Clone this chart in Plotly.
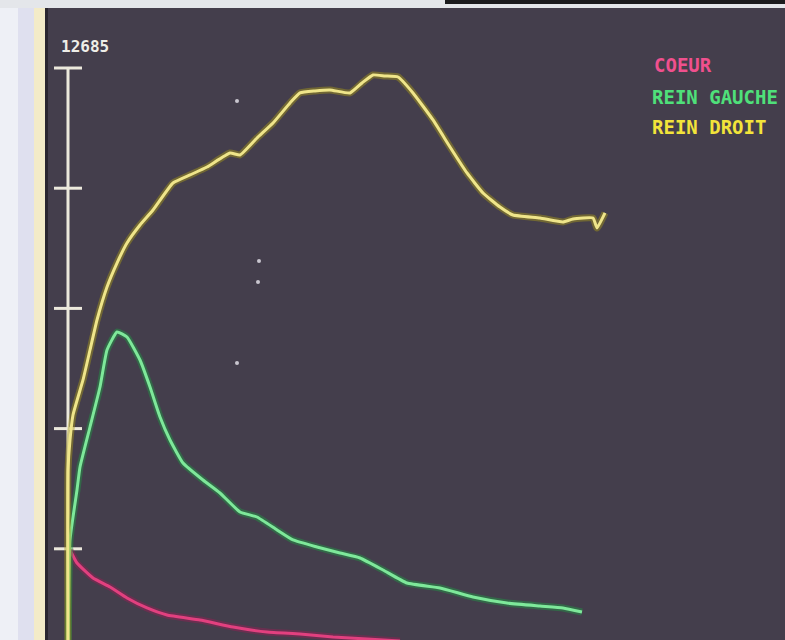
import plotly.graph_objects as go

# Renogram data (time in minutes, counts)
t_droit = [0, 0.0, 0.1, 0.25, 0.75, 1.1, 1.45, 1.95, 2.45, 2.95, 3.6, 4.25, 5.25, 6.1, 6.95, 8.1, 8.6,
           9.45, 10.25, 11.1, 11.6, 12.35, 13.1, 14.1, 14.7, 15.25, 15.85, 16.5, 17.25, 18.25, 19.1,
           19.95, 20.75, 21.6, 22.25, 23.6, 24.75, 25.25, 26.25, 26.45, 26.85]
rein_droit = [0, 4200, 4834, 5361, 6100, 6733, 7366, 8063, 8569, 8992, 9372, 9688, 10258, 10427, 10596,
              10891, 10849, 11208, 11524, 11947, 12158, 12200, 12221, 12158, 12369, 12538, 12516, 12495,
              12158, 11588, 11018, 10469, 10047, 9751, 9583, 9519, 9435, 9498, 9519, 9308, 9625]

t_gauche = [0, 0.1, 0.45, 0.6, 1.1, 1.6, 1.95, 2.45, 2.95, 3.6, 4.1, 4.6, 5.1, 5.75, 6.75, 7.6, 8.6,
            9.45, 10.45, 11.25, 12.45, 13.6, 14.6, 15.75, 16.95, 18.6, 20.25, 21.95, 23.6, 24.75, 25.7]
rein_gauche = [0, 2723, 3778, 4264, 5108, 5952, 6733, 7113, 7008, 6522, 5952, 5319, 4834, 4348, 3989,
               3715, 3314, 3208, 2934, 2723, 2575, 2448, 2343, 2090, 1815, 1710, 1520, 1393, 1330,
               1288, 1203]

t_coeur = [0.1, 0.45, 1.25, 2.1, 2.95, 3.95, 4.95, 6.6, 8.25, 9.95, 11.6, 13.25, 14.95, 16.6]
coeur = [2512, 2237, 1921, 1731, 1499, 1288, 1140, 1034, 886, 781, 739, 675, 633, 591]

# stray bright specks on the screen
speck_t = [8.45, 9.55, 9.5, 8.45]
speck_v = [11989, 8612, 8168, 6459]

y_max = 12685
y_ticks = [0, 2537, 5074, 7611, 10148, 12685]

W, H = 785, 640
SCREEN = "#443e4c"

fig = go.Figure()

def glow_line(x, y, core, halo):
    fig.add_trace(go.Scatter(x=x, y=y, mode="lines", line=dict(color=halo, width=7, shape="spline", smoothing=0.4),
                             opacity=0.45, hoverinfo="skip", showlegend=False))
    fig.add_trace(go.Scatter(x=x, y=y, mode="lines", line=dict(color=core, width=3, shape="spline", smoothing=0.4),
                             hoverinfo="skip", showlegend=False))

# axis
fig.add_trace(go.Scatter(x=[0, 0], y=[0, y_max], mode="lines",
                         line=dict(color="#ece9dc", width=3), showlegend=False, hoverinfo="skip"))
fig.add_trace(go.Scatter(x=[0] * len(y_ticks), y=y_ticks, mode="markers",
                         marker=dict(symbol="line-ew", size=20, line=dict(color="#ece9dc", width=3)),
                         showlegend=False, hoverinfo="skip"))

glow_line(t_coeur, coeur, "#e2407f", "#9a1e55")
glow_line(t_gauche, rein_gauche, "#7ee89a", "#1f9a45")
glow_line(t_droit, rein_droit, "#efe58a", "#a89a18")

fig.add_trace(go.Scatter(x=speck_t, y=speck_v, mode="markers",
                         marker=dict(color="#c9c6cf", size=4), showlegend=False, hoverinfo="skip"))

# pixel geometry: x=0 at px 68, 20 px per minute; y=0 at px 669, 12685 at px 68
px_per_min = 20.0
x0_px = 68
x_range = [-x0_px / px_per_min, (W - x0_px) / px_per_min]
k = y_max / (669 - 68)
y_range = [(669 - H) * k, 669 * k]

font_mono = "DejaVu Sans Mono"
anns = [
    dict(x=0, y=y_max, xref="x", yref="y", text="<b>12685</b>", showarrow=False,
         xshift=17, yshift=22, font=dict(family=font_mono, size=16, color="#efeee8")),
    dict(x=652 / W, y=1 - 65 / H, xref="paper", yref="paper", text="<b>COEUR</b>", showarrow=False,
         xanchor="left", yanchor="middle", font=dict(family=font_mono, size=19, color="#f0508e")),
    dict(x=650 / W, y=1 - 97 / H, xref="paper", yref="paper", text="<b>REIN GAUCHE</b>", showarrow=False,
         xanchor="left", yanchor="middle", font=dict(family=font_mono, size=19, color="#4fe07a")),
    dict(x=650 / W, y=1 - 127 / H, xref="paper", yref="paper", text="<b>REIN DROIT</b>", showarrow=False,
         xanchor="left", yanchor="middle", font=dict(family=font_mono, size=19, color="#f2e43a")),
]

def rect(x0, y0, x1, y1, color):
    return dict(type="rect", xref="paper", yref="paper", x0=x0 / W, x1=x1 / W,
                y0=1 - y1 / H, y1=1 - y0 / H, fillcolor=color, line=dict(width=0), layer="above")

shapes = [
    rect(0, 0, 18, H, "#eef0f6"),
    rect(18, 0, 34, H, "#dfe0ef"),
    rect(34, 0, 45, H, "#f3ebc8"),
    rect(45, 0, 48, H, "#2a2630"),
    rect(0, 0, W, 8, "#e4e6ea"),
    rect(445, 0, W, 4, "#1c1c1e"),
]

fig.update_layout(
    width=W, height=H,
    margin=dict(l=0, r=0, t=0, b=0),
    paper_bgcolor=SCREEN, plot_bgcolor=SCREEN,
    xaxis=dict(range=x_range, visible=False, fixedrange=True),
    yaxis=dict(range=y_range, visible=False, fixedrange=True),
    annotations=anns, shapes=shapes, showlegend=False,
)

fig.write_html("out.html", config={"displayModeBar": False},
               post_script="document.body.style.margin='0';document.body.style.overflow='hidden';")
